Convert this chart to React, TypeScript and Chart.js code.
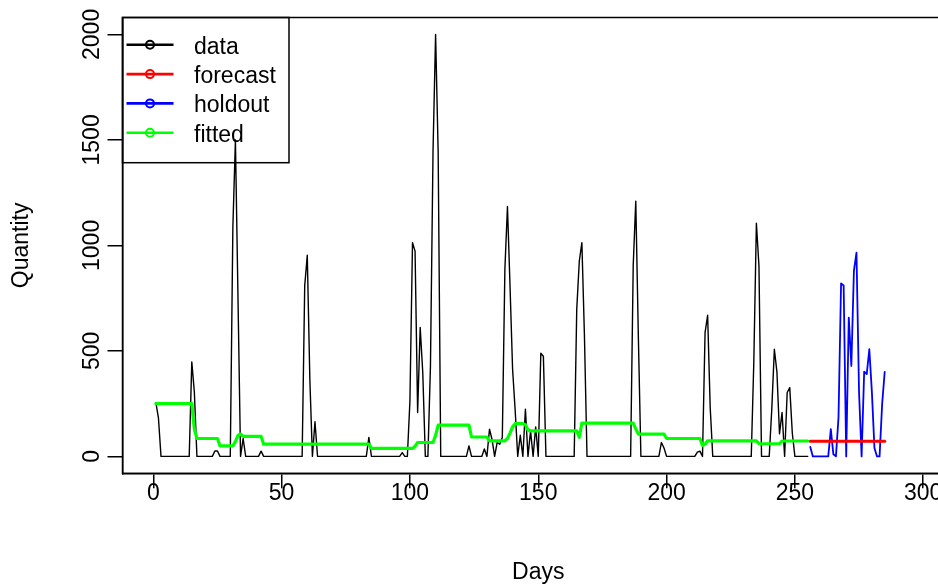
import React, { useEffect, useRef } from "react";
import { Chart, registerables } from "chart.js";

Chart.register(...registerables);

// ---- data ----
const DATA_START_DAY = 1;
const HOLDOUT_START_DAY = 256;

const dataValues = [
  255, 183, 0, 0, 0, 0, 0, 0, 0, 0,
  0, 0, 0, 0, 448, 304, 0, 0, 0, 0,
  0, 0, 0, 26, 26, 0, 0, 0, 0, 0,
  1083, 1500, 752, 0, 85, 0, 0, 0, 0, 0,
  0, 25, 0, 0, 0, 0, 0, 0, 0, 0,
  0, 0, 0, 0, 0, 0, 0, 0, 808, 953,
  366, 0, 164, 0, 0, 0, 0, 0, 0, 0,
  0, 0, 0, 0, 0, 0, 0, 0, 0, 0,
  0, 0, 0, 90, 0, 0, 0, 0, 0, 0,
  0, 0, 0, 0, 0, 0, 18, 0, 0, 263,
  1013, 973, 208, 611, 398, 0, 0, 429, 1447, 2000,
  1440, 0, 0, 0, 0, 0, 0, 0, 0, 0,
  0, 0, 50, 0, 0, 0, 0, 0, 35, 0,
  129, 80, 0, 66, 58, 90, 887, 1184, 808, 413,
  220, 0, 100, 0, 224, 0, 120, 0, 140, 0,
  489, 475, 0, 0, 0, 0, 0, 0, 0, 0,
  0, 0, 0, 0, 697, 926, 1013, 571, 0, 0,
  0, 0, 0, 0, 0, 0, 0, 0, 0, 0,
  0, 0, 0, 0, 0, 0, 902, 1210, 571, 0,
  0, 0, 0, 0, 0, 0, 0, 66, 40, 0,
  0, 0, 0, 0, 0, 0, 0, 0, 0, 0,
  0, 20, 25, 0, 587, 669, 232, 0, 0, 0,
  0, 0, 0, 0, 0, 0, 0, 0, 0, 0,
  0, 0, 0, 450, 1105, 902, 0, 0, 0, 0,
  224, 508, 401, 107, 208, 0, 303, 326, 110, 0,
  0, 0, 0, 0, 0,
];

const fittedValues = [
  250, 250, 250, 250, 250, 250, 250, 250, 250, 250,
  250, 250, 250, 250, 250, 130, 85, 85, 85, 85,
  85, 85, 85, 85, 85, 50, 50, 50, 50, 50,
  50, 70, 100, 106, 95, 95, 95, 95, 95, 95,
  95, 95, 58, 58, 58, 58, 58, 58, 58, 58,
  58, 58, 58, 58, 58, 58, 58, 58, 58, 58,
  58, 58, 58, 58, 58, 58, 58, 58, 58, 58,
  58, 58, 58, 58, 58, 58, 58, 58, 58, 58,
  58, 58, 58, 58, 38, 38, 38, 38, 38, 38,
  38, 38, 38, 38, 38, 38, 38, 38, 38, 38,
  38, 48, 66, 66, 66, 66, 66, 66, 66, 100,
  148, 148, 148, 148, 148, 148, 148, 148, 148, 148,
  148, 148, 148, 92, 92, 92, 92, 92, 92, 92,
  74, 74, 74, 74, 74, 74, 74, 85, 110, 140,
  155, 155, 155, 155, 150, 125, 121, 121, 121, 121,
  121, 121, 121, 121, 121, 121, 121, 121, 121, 121,
  121, 121, 121, 121, 121, 90, 158, 158, 158, 158,
  158, 158, 158, 158, 158, 158, 158, 158, 158, 158,
  158, 158, 158, 158, 158, 158, 158, 130, 106, 106,
  106, 106, 106, 106, 106, 106, 106, 106, 106, 85,
  85, 85, 85, 85, 85, 85, 85, 85, 85, 85,
  85, 85, 85, 52, 58, 74, 74, 74, 74, 74,
  74, 74, 74, 74, 74, 74, 74, 74, 74, 74,
  74, 74, 74, 74, 74, 60, 60, 60, 60, 60,
  60, 60, 60, 60, 73, 73, 73, 73, 73, 73,
  73, 73, 73, 73, 73,
];

const holdoutValues = [
  45, 0, 0, 0, 0, 0, 0, 0, 129, 10,
  0, 185, 820, 810, 0, 658, 429, 879, 966, 303,
  0, 402, 390, 508, 306, 40, 0, 0, 248, 401,
];

const forecastValues = [
  72, 72, 72, 72, 72, 72, 72, 72, 72, 72,
  72, 72, 72, 72, 72, 72, 72, 72, 72, 72,
  72, 72, 72, 72, 72, 72, 72, 72, 72, 72,
];

const seriesNames = ["data", "forecast", "holdout", "fitted"];
const seriesColors = ["#000000", "#ff0000", "#0000ff", "#00ff00"];

const xTickValues = [0, 50, 100, 150, 200, 250, 300];
const yTickValues = [0, 500, 1000, 1500, 2000];

const X_MIN = -12;
const X_MAX = 312;
const Y_MIN = -80;
const Y_MAX = 2080;

const FONT = "'Liberation Sans', Arial, Helvetica, sans-serif";
const FONT_SIZE = 23;

function toPoints(values: number[], start: number) {
  return values.map((v, i) => ({ x: start + i, y: v }));
}

const rStylePlugin = {
  id: "rStyle",
  afterDatasetsDraw(chart: any) {
    const { ctx, chartArea } = chart;
    ctx.save();
    ctx.strokeStyle = "#000";
    ctx.lineWidth = 1.5;
    ctx.strokeRect(
      chartArea.left,
      chartArea.top,
      chartArea.right - chartArea.left,
      chartArea.bottom - chartArea.top
    );
    ctx.restore();
  },
  afterDraw(chart: any) {
    const { ctx, chartArea } = chart;
    const ys = chart.scales.y;
    ctx.save();
    // rotated y tick labels (R style, las = 0)
    ctx.font = `${FONT_SIZE}px ${FONT}`;
    ctx.fillStyle = "#000";
    ctx.textAlign = "center";
    ctx.textBaseline = "middle";
    ys.ticks.forEach((t: any) => {
      const py = ys.getPixelForValue(t.value);
      ctx.save();
      ctx.translate(chartArea.left - 30, py);
      ctx.rotate(-Math.PI / 2);
      ctx.fillText(String(t.value), 0, 0);
      ctx.restore();
    });

    // legend box (top-left, transparent)
    const lx = chartArea.left;
    const ly = chartArea.top;
    ctx.strokeStyle = "#000";
    ctx.lineWidth = 1.5;
    ctx.strokeRect(lx, ly, 166.5, 145.2);
    ctx.textAlign = "left";
    ctx.textBaseline = "alphabetic";
    seriesNames.forEach((name, i) => {
      const ry = ly + 27.3 + i * 29.3;
      const col = seriesColors[i];
      ctx.strokeStyle = col;
      ctx.lineWidth = 2.6;
      ctx.beginPath();
      ctx.moveTo(lx + 4, ry);
      ctx.lineTo(lx + 51, ry);
      ctx.stroke();
      ctx.lineWidth = 2;
      ctx.beginPath();
      ctx.arc(lx + 27.5, ry, 4, 0, Math.PI * 2);
      ctx.stroke();
      ctx.fillStyle = "#000";
      ctx.fillText(name, lx + 71.5, ry + 9);
    });
    ctx.restore();
  },
};

export default function App() {
  const canvasRef = useRef<HTMLCanvasElement | null>(null);

  useEffect(() => {
    document.body.style.overflow = "hidden";
    const canvas = canvasRef.current;
    if (!canvas) return;
    const chart = new Chart(canvas, {
      type: "line",
      data: {
        datasets: [
          {
            label: seriesNames[0],
            data: toPoints(dataValues, DATA_START_DAY),
            borderColor: seriesColors[0],
            borderWidth: 1.4,
            order: 4,
          },
          {
            label: seriesNames[1],
            data: toPoints(forecastValues, HOLDOUT_START_DAY),
            borderColor: seriesColors[1],
            borderWidth: 3,
            order: 2,
          },
          {
            label: seriesNames[2],
            data: toPoints(holdoutValues, HOLDOUT_START_DAY),
            borderColor: seriesColors[2],
            borderWidth: 1.8,
            order: 3,
          },
          {
            label: seriesNames[3],
            data: toPoints(fittedValues, DATA_START_DAY),
            borderColor: seriesColors[3],
            borderWidth: 3.2,
            order: 1,
          },
        ],
      },
      options: {
        animation: false,
        responsive: false,
        devicePixelRatio: 1,
        layout: { padding: { top: 17.5, right: 6, left: 0, bottom: 0 } },
        elements: {
          point: { radius: 0, hoverRadius: 0 },
          line: {
            tension: 0,
            fill: false,
            borderJoinStyle: "round",
            borderCapStyle: "round",
          },
        },
        plugins: {
          legend: { display: false },
          tooltip: { enabled: false },
        },
        events: [],
        scales: {
          x: {
            type: "linear",
            min: X_MIN,
            max: X_MAX,
            afterBuildTicks(scale: any) {
              scale.ticks = xTickValues.map((v) => ({ value: v }));
            },
            ticks: {
              autoSkip: false,
              maxRotation: 0,
              minRotation: 0,
              padding: -8,
              color: "#000",
              font: { family: FONT, size: FONT_SIZE },
            },
            grid: {
              drawOnChartArea: false,
              drawTicks: true,
              tickLength: 15,
              color: "#000",
              lineWidth: 1.5,
            },
            border: { display: true, color: "#000", width: 1.5 },
            title: {
              display: true,
              text: "Days",
              color: "#000",
              font: { family: FONT, size: FONT_SIZE },
              padding: { top: 0, bottom: 1.2 },
            },
            afterFit(scale: any) {
              scale.height = 114.7;
            },
          },
          y: {
            type: "linear",
            min: Y_MIN,
            max: Y_MAX,
            afterBuildTicks(scale: any) {
              scale.ticks = yTickValues.map((v) => ({ value: v }));
            },
            ticks: {
              display: false,
            },
            grid: {
              drawOnChartArea: false,
              drawTicks: true,
              tickLength: 15,
              color: "#000",
              lineWidth: 1.5,
            },
            border: { display: true, color: "#000", width: 1.5 },
            title: {
              display: true,
              text: "Quantity",
              color: "#000",
              font: { family: FONT, size: FONT_SIZE },
              padding: { top: 8.2, bottom: 0 },
            },
            afterFit(scale: any) {
              scale.width = 122.5;
            },
          },
        },
      },
      plugins: [rStylePlugin],
    });
    return () => {
      chart.destroy();
    };
  }, []);

  return (
    <div
      style={{
        position: "fixed",
        left: 0,
        top: 0,
        width: 960,
        height: 588,
        background: "#fff",
      }}
    >
      <canvas ref={canvasRef} width={960} height={588} style={{ display: "block" }} />
    </div>
  );
}
